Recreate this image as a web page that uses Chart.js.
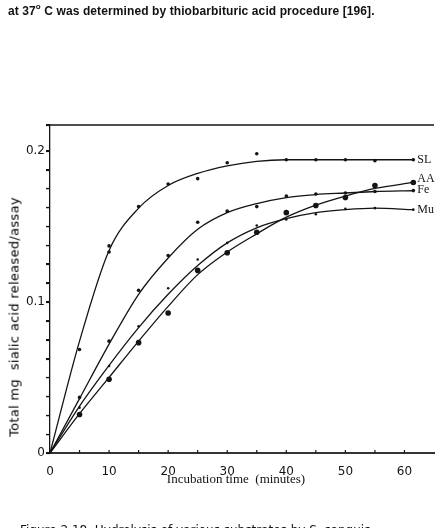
<!DOCTYPE html>
<html>
<head>
<meta charset="utf-8">
<script src="https://cdn.jsdelivr.net/npm/chart.js@4.4.1/dist/chart.umd.min.js"></script>
<style>
  html, body { margin: 0; padding: 0; background: #fff; }
  #page { position: relative; width: 438px; height: 528px; overflow: hidden; background: #fff; }
  #chart { position: absolute; left: 0; top: 0; }
  .txt { position: absolute; color: #111; white-space: nowrap; }
  #top { left: 8px; top: 3px; font: bold 12px "Liberation Sans", sans-serif; letter-spacing: 0.1px; }
  #top sup { font-size: 8px; position: relative; top: -1px; }
  #xtitle { left: 0; width: 472px; text-align: center; top: 471px; font: 13px "Liberation Serif", serif; }
  #ytitle { left: 14px; top: 317px; font: 13px "DejaVu Sans", sans-serif; color: #000; transform: translate(-50%, -50%) rotate(-90deg); letter-spacing: 0.3px; }
  #caption { left: 20px; top: 523px; font: 12px "DejaVu Sans", sans-serif; }
</style>
</head>
<body>
<div id="page">
  <canvas id="chart" width="438" height="528"></canvas>
  <div class="txt" id="top">at 37<sup>o</sup> C was determined by thiobarbituric acid procedure [196].</div>
  <div class="txt" id="xtitle">Incubation time &nbsp;(minutes)</div>
  <div class="txt" id="ytitle">Total mg &nbsp;sialic acid released/assay</div>
  <div class="txt" id="caption">Figure 2.18 &nbsp;Hydrolysis of various substrates by S. sanguis</div>
</div>
<script>
// fitted curves
const curveTimes = [0, 5, 10, 15, 20, 25, 30, 35, 40, 45, 50, 55, 61.5];
const slCurve = [0, 0.074, 0.134, 0.162, 0.177, 0.185, 0.190, 0.193, 0.194, 0.194, 0.194, 0.194, 0.194];
const aaCurve = [0, 0.026, 0.050, 0.074, 0.097, 0.118, 0.133, 0.145, 0.156, 0.164, 0.170, 0.175, 0.179];
const feCurve = [0, 0.036, 0.072, 0.105, 0.129, 0.148, 0.159, 0.165, 0.169, 0.171, 0.172, 0.173, 0.1735];
const muCurve = [0, 0.031, 0.058, 0.083, 0.105, 0.124, 0.139, 0.149, 0.155, 0.159, 0.161, 0.162, 0.161];

// measured points
const slTimes = [5, 10, 10, 15, 20, 25, 30, 35, 40, 45, 50, 55, 61.5];
const slPoints = [0.0685, 0.137, 0.133, 0.163, 0.178, 0.1815, 0.192, 0.198, 0.194, 0.194, 0.194, 0.1934, 0.194];
const pointTimes = [5, 10, 15, 20, 25, 30, 35, 40, 45, 50, 55, 61.5];
const aaPoints = [0.0255, 0.0488, 0.073, 0.0926, 0.1208, 0.1325, 0.146, 0.159, 0.1637, 0.169, 0.177, 0.179];
const fePoints = [0.0368, 0.074, 0.1076, 0.1307, 0.1527, 0.160, 0.163, 0.170, 0.1714, 0.172, 0.173, 0.1736];
const muPoints = [0.030, 0.0576, 0.0838, 0.109, 0.128, 0.139, 0.1505, 0.1545, 0.158, 0.1615, 0.162, 0.161];

const seriesNames = ['SL', 'AA', 'Fe', 'Mu'];
const yLabels = { 0: '0', 0.1: '0.1', 0.2: '0.2' };

const ink = '#141414';
const pairs = (xs, ys) => xs.map((x, i) => ({ x, y: ys[i] }));

function curve(label, ys) {
  return {
    label, data: pairs(curveTimes, ys), showLine: true, pointRadius: 0,
    borderColor: ink, borderWidth: 1.3, cubicInterpolationMode: 'monotone', clip: false
  };
}
function dots(label, xs, ys, r) {
  return {
    label, data: pairs(xs, ys), showLine: false, pointRadius: r,
    pointBackgroundColor: ink, pointBorderWidth: 0, clip: false
  };
}

// inward x ticks, outward y ticks, top frame line and the series names
const decor = {
  id: 'decor',
  afterDraw(chart) {
    const { ctx, chartArea, scales } = chart;
    ctx.save();
    ctx.strokeStyle = ink;
    ctx.lineWidth = 1.3;
    ctx.beginPath();
    ctx.moveTo(chartArea.left, chartArea.top);
    ctx.lineTo(chartArea.right, chartArea.top);
    ctx.stroke();
    ctx.lineWidth = 1.2;
    for (let t = 5; t <= 60; t += 5) {
      const px = scales.x.getPixelForValue(t);
      ctx.beginPath();
      ctx.moveTo(px, chartArea.bottom);
      ctx.lineTo(px, chartArea.bottom - 3);
      ctx.stroke();
    }
    scales.y.ticks.forEach(tk => {
      const py = Math.round(scales.y.getPixelForValue(tk.value)) + 0.5;
      ctx.beginPath();
      ctx.moveTo(chartArea.left - 4, py);
      ctx.lineTo(chartArea.left, py);
      ctx.stroke();
    });
    ctx.fillStyle = ink;
    ctx.font = '12px "Liberation Serif", serif';
    ctx.textBaseline = 'middle';
    const ends = [slCurve, aaCurve, feCurve, muCurve];
    const dy = [0, -4, -1, 0];
    ends.forEach((ys, i) => {
      const last = curveTimes.length - 1;
      const px = scales.x.getPixelForValue(curveTimes[last]) + 4;
      const py = scales.y.getPixelForValue(ys[last]) + dy[i];
      ctx.fillText(seriesNames[i], px, py);
    });
    ctx.restore();
  }
};

new Chart(document.getElementById('chart'), {
  type: 'scatter',
  data: {
    datasets: [
      curve('SL', slCurve), curve('AA', aaCurve), curve('Fe', feCurve), curve('Mu', muCurve),
      dots('SL pts', slTimes, slPoints, 1.8),
      dots('AA pts', pointTimes, aaPoints, 2.8),
      dots('Fe pts', pointTimes, fePoints, 1.8),
      dots('Mu pts', pointTimes, muPoints, 1.3)
    ]
  },
  options: {
    responsive: false,
    animation: false,
    layout: { padding: { top: 125, right: 0, left: 0, bottom: 0 } },
    plugins: { legend: { display: false }, tooltip: { enabled: false } },
    scales: {
      x: {
        type: 'linear', min: 0, max: 65,
        afterFit: s => { s.height = 75; },
        border: { color: '#333', width: 2 },
        grid: { display: false },
        ticks: {
          stepSize: 5, padding: 4, color: ink, autoSkip: false, maxTicksLimit: 20,
          font: { family: 'DejaVu Sans', size: 12 },
          callback: v => (v % 10 === 0 && v <= 60 ? String(v) : '')
        }
      },
      y: {
        type: 'linear', min: 0, max: 0.217,
        afterFit: s => { s.width = 50; },
        border: { color: ink, width: 1.3 },
        grid: { drawOnChartArea: false, tickLength: 4, color: ink, lineWidth: 1.2 },
        ticks: {
          stepSize: 0.0125, padding: 1, color: ink, autoSkip: false, maxTicksLimit: 40,
          font: { family: 'DejaVu Sans', size: 12 },
          callback: v => {
            for (const k in yLabels) if (Math.abs(v - k) < 1e-6) return yLabels[k];
            return '';
          }
        }
      }
    }
  },
  plugins: [decor]
});
</script>
</body>
</html>
